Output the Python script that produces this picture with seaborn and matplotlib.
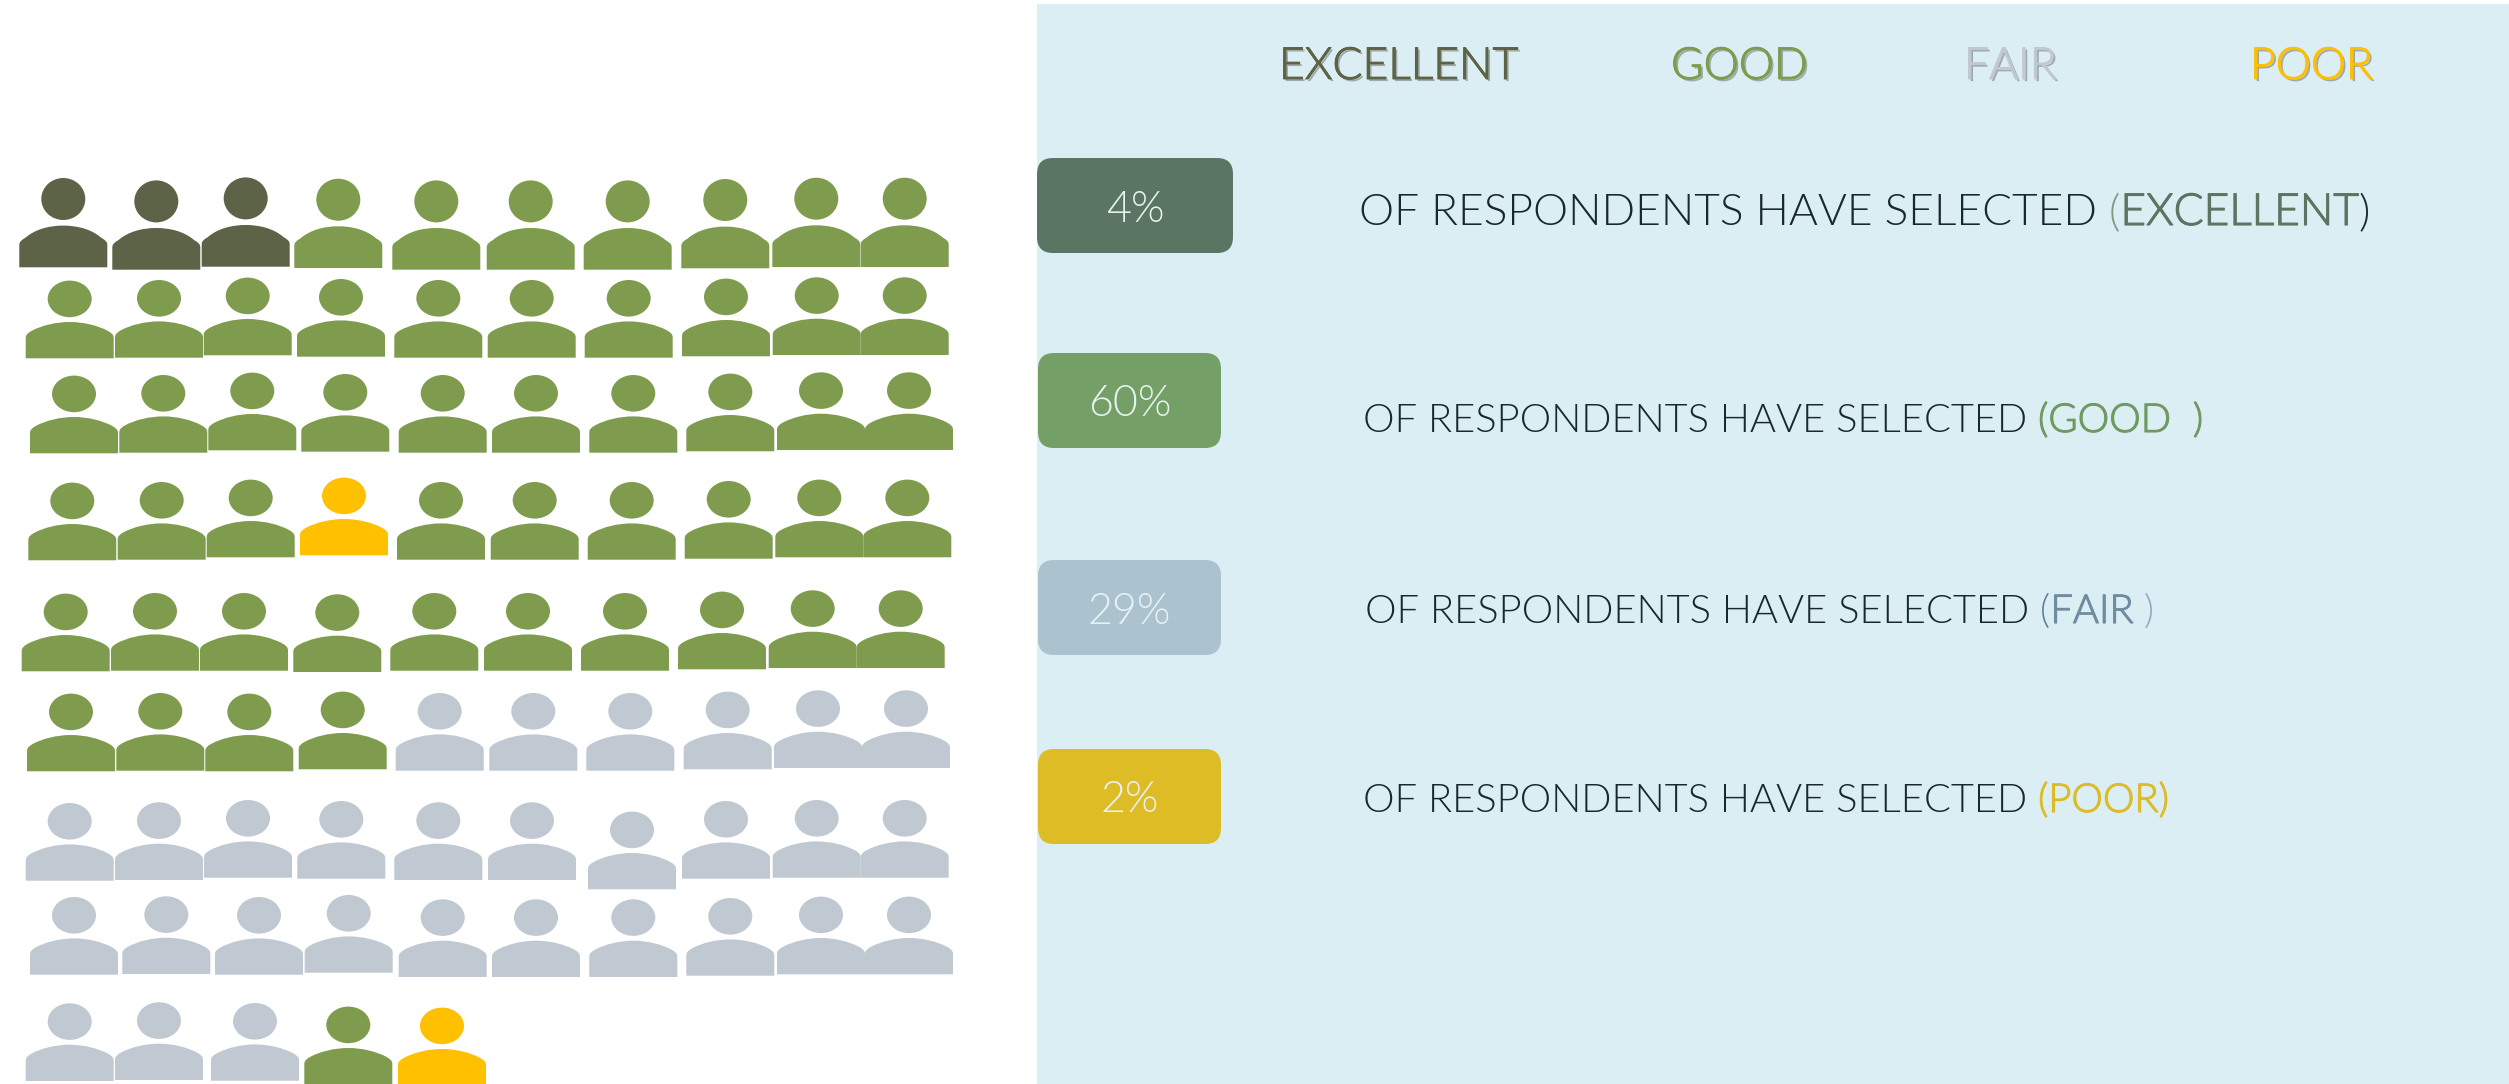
import numpy as np
import pandas as pd
import matplotlib
matplotlib.use("Agg")
import matplotlib.pyplot as plt
import matplotlib.patheffects as pe
from matplotlib.path import Path
from matplotlib.patches import FancyBboxPatch, Rectangle
from matplotlib.transforms import Affine2D
import seaborn as sns

# ---- data ----
RATINGS = ["EXCELLENT", "GOOD", "FAIR", "POOR"]
PERCENT_LABELS = ["4%", "60%", "29%", "2%"]
ICON_ROWS = [
    "EEEGGGGGGG",
    "GGGGGGGGGG",
    "GGGGGGGGGG",
    "GGGPGGGGGG",
    "GGGGGGGGGG",
    "GGGGFFFFFF",
    "FFFFFFFFFF",
    "FFFFFFFFFF",
    "FFFGP",
]
LETTER = {"E": "EXCELLENT", "G": "GOOD", "F": "FAIR", "P": "POOR"}

# ---- hand-placed pictogram layout, as measured ----
ROW_X = [
    [63.3, 156.3, 245.7, 338.3, 436.3, 530.7, 627.7, 725.3, 816.3, 904.7],
    [69.7, 159, 247.7, 341, 438.3, 531.7, 628.7, 726, 816.7, 904.7],
    [74, 163.3, 252.3, 345.3, 442.7, 536, 633.3, 730.3, 821, 909],
    [72.3, 161.7, 250.7, 344, 441, 534.7, 631.7, 728.7, 819.3, 907.3],
    [65.7, 155, 244, 337.3, 434.3, 528, 625, 722, 812.7, 900.7],
    [71, 160.3, 249.3, 342.7, 439.7, 533.3, 630.3, 727.7, 818, 906],
    [69.7, 159, 248, 341.3, 438.3, 532, 632, 726, 816.7, 904.7],
    [74, 166.3, 259, 348.7, 442.7, 536, 633.3, 730.3, 821, 909],
    [69.7, 159, 255, 348.3, 442],
]
ROW_BASE = [
    [267.3, 269.7, 266.7, 268, 269.7, 269.7, 269.7, 268.3, 267, 267],
    [358.3, 357.7, 355.3, 356.7, 357.7, 357.7, 357.7, 356.3, 355, 355],
    [453.3, 452.7, 450.3, 451.7, 452.7, 452.7, 452.7, 451.3, 450, 450],
    [560.3, 559.7, 557.3, 555.3, 559.7, 559.7, 559.7, 558.7, 557.3, 557.3],
    [671.3, 670.7, 670.7, 672, 670.7, 670.7, 670.7, 669.3, 668, 668],
    [771.3, 770.7, 771.3, 769.3, 770.7, 770.7, 770.7, 769.3, 768, 768],
    [880.7, 880, 877.7, 878.7, 880, 880, 889.3, 878.7, 877.7, 877.7],
    [974.7, 974, 974.7, 972.7, 977, 977, 977, 975.7, 974.3, 974.3],
    [1081, 1080, 1080.7, 1084.3, 1085.3],
]

PALETTE = {"EXCELLENT": "#5C6346", "GOOD": "#7F9C4E", "FAIR": "#C0C8D2", "POOR": "#FFC000"}
BOX_COLORS = ["#5A7561", "#74A067", "#ABC3CF", "#DDBC26"]
TEXT_DARK = "#17282E"
FONT = ["Lato", "Open Sans", "DejaVu Sans"]
LIGHT = 300

W, H = 2509, 1084
PX = 0.72  # points per pixel at dpi 100


def person(total, body_h, side_h, head_ry):
    """Person glyph, origin at the middle of its base, y up, in pixels."""
    hw = 44
    j = side_h + 7.5
    v = [(-hw, 0), (hw, 0), (hw, side_h),
         (hw, side_h + 4), (hw - 2, side_h + 5), (hw - 6, j),
         (28, body_h - 3.5), (14, body_h), (0, body_h),
         (-14, body_h), (-28, body_h - 3.5), (-hw + 6, j),
         (-hw + 2, side_h + 5), (-hw, side_h + 4), (-hw, side_h),
         (-hw, 0)]
    c = [Path.MOVETO, Path.LINETO, Path.LINETO] + [Path.CURVE4] * 12 + [Path.CLOSEPOLY]
    body = Path(v, c)
    head = Path.unit_circle().transformed(
        Affine2D().scale(22, head_ry).translate(0, total - head_ry))
    return Path.make_compound_path(body, head)


sns.set_theme(style="white")
plt.rcParams["font.family"] = FONT

fig = plt.figure(figsize=(W / 100, H / 100), dpi=100, facecolor="white")
ax = fig.add_axes([0, 0, 1, 1])

records = []
for r, (cats, xs, ys) in enumerate(zip(ICON_ROWS, ROW_X, ROW_BASE)):
    for ch, x, y in zip(cats, xs, ys):
        records.append({"row": r, "rating": LETTER[ch], "x": x, "y": y})
icons = pd.DataFrame(records)

tall = person(89.3, 41.7, 22, 21)
regular = person(77.7, 36.3, 20, 18.3)

sns.scatterplot(data=icons[icons.row == 0], x="x", y="y", hue="rating", palette=PALETTE,
                marker=tall, s=(2 * 89.3 * PX) ** 2, linewidth=0, legend=False, ax=ax, zorder=3)
sns.scatterplot(data=icons[icons.row > 0], x="x", y="y", hue="rating", palette=PALETTE,
                marker=regular, s=(2 * 77.7 * PX) ** 2, linewidth=0, legend=False, ax=ax, zorder=3)

ax.set_xlim(0, W)
ax.set_ylim(H, 0)
ax.axis("off")

ax.add_patch(Rectangle((1037, 4), W - 1037, H - 4, facecolor="#DBEEF3", edgecolor="none", zorder=1))

# legend header
for name, x0 in zip(RATINGS, [1279, 1671, 1964, 2250]):
    effects = [pe.withSimplePatchShadow(offset=(1.5, -1.5), shadow_rgbFace="#666666", alpha=0.5),
               pe.withStroke(linewidth=0.7, foreground=PALETTE[name])]
    ax.text(x0, 79, name, color=PALETTE[name], fontsize=32, fontweight=LIGHT,
            va="baseline", ha="left", path_effects=effects, zorder=4)

# percentage boxes
boxes = [(1037, 158, 196, 95), (1038, 353, 183, 95), (1038, 560, 183, 95), (1038, 749, 183, 95)]
label_base = [222, 416, 624, 812]
for (x, y, w, h), col, lab, b in zip(boxes, BOX_COLORS, PERCENT_LABELS, label_base):
    ax.add_patch(FancyBboxPatch((x + 15, y + 15), w - 30, h - 30,
                                boxstyle="round,pad=15,rounding_size=16",
                                facecolor=col, edgecolor="none", zorder=2))
    ax.text(x + w / 2, b, lab, color="#E8F2F2", fontsize=31, fontweight=LIGHT,
            ha="center", va="baseline", zorder=4)

# sentences, built from coloured pieces; third field of a part: heavier word
renderer = fig.canvas.get_renderer()
PREFIX = "OF RESPONDENTS HAVE SELECTED"
sentences = [
    (1359, 225, 31.9, [(PREFIX, TEXT_DARK, 0), (" (", "#7F9A88", 0), ("EXCELLENT", BOX_COLORS[0], 1), (")", TEXT_DARK, 0)]),
    (1363, 432, 28.7, [(PREFIX, TEXT_DARK, 0), (" (GOOD", "#6F9A62", 1), ("  )", "#6F9A62", 1)]),
    (1365, 623, 28.7, [(PREFIX, TEXT_DARK, 0), (" (", "#5E7F90", 0), ("FAIR", "#6F8CA0", 1), (" )", "#8FA9BA", 0)]),
    (1363, 812, 28.7, [(PREFIX, TEXT_DARK, 0), (" (POOR)", "#DDBC26", 1)]),
]
for x0, base, size, parts in sentences:
    x = x0
    for s, col, heavy in parts:
        t = ax.text(x, base, s, color=col, fontsize=size, fontweight=LIGHT,
                    ha="left", va="baseline", zorder=4)
        if heavy:
            t.set_path_effects([pe.withStroke(linewidth=0.8, foreground=col)])
        # advance by measuring with a guard character so that spaces count
        probe = ax.text(0, 0, s + "|", fontsize=size, fontweight=LIGHT)
        guard = ax.text(0, 0, "|", fontsize=size, fontweight=LIGHT)
        x += probe.get_window_extent(renderer).width - guard.get_window_extent(renderer).width
        probe.remove()
        guard.remove()

fig.savefig("out.png", dpi=100, facecolor="white")
